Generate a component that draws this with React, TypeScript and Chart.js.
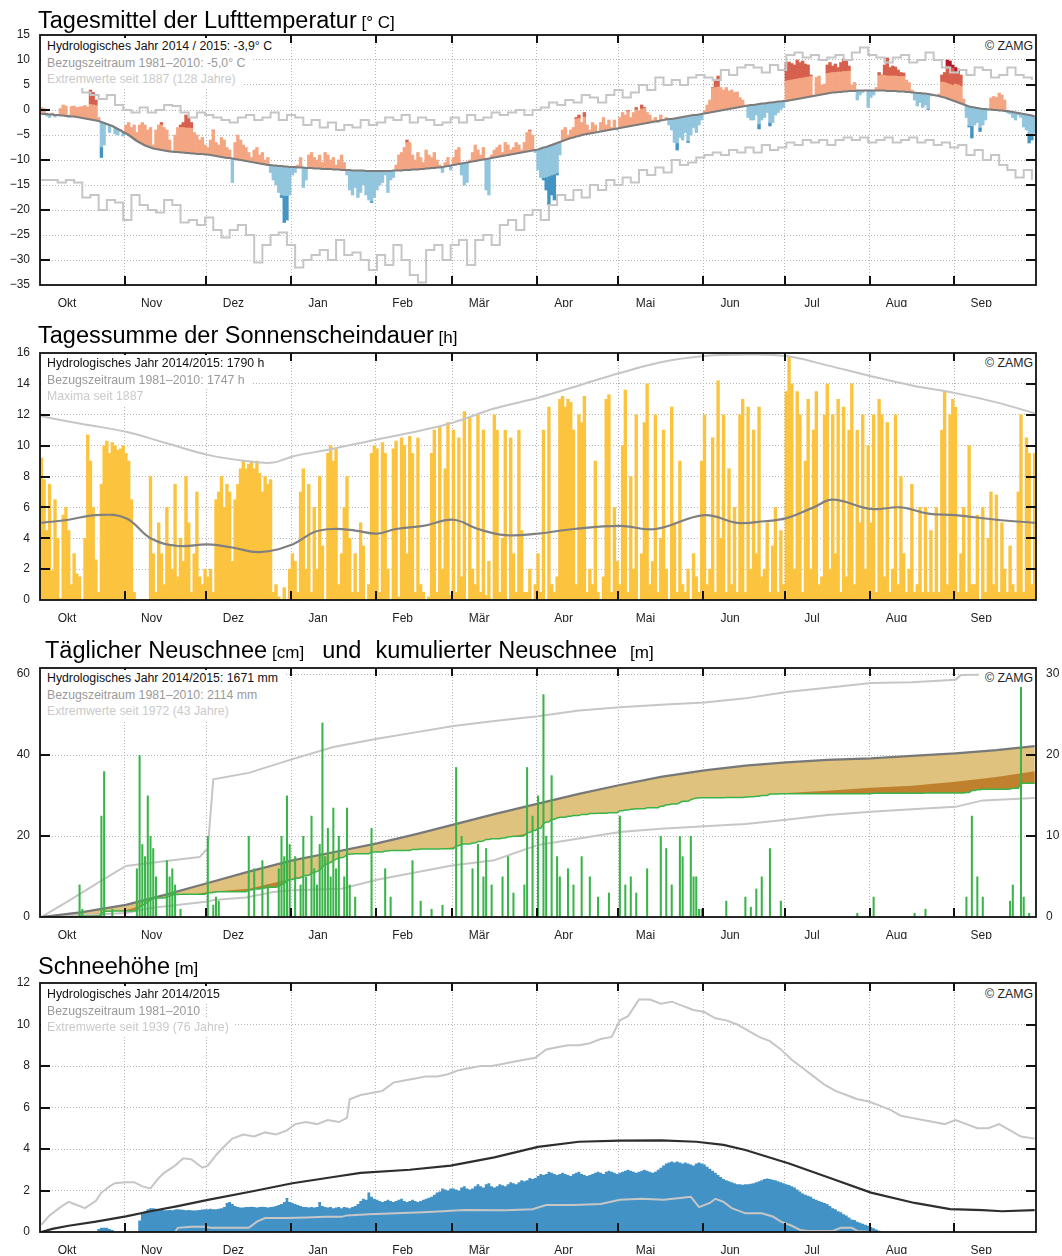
import React, { useEffect, useRef } from "react";
import { Chart, registerables } from "chart.js";

Chart.register(...registerables);

const FONT = '"Liberation Sans", Arial, Helvetica, sans-serif';

// ---------------- shared categories ----------------
const monthLabels = ["Okt", "Nov", "Dez", "Jan", "Feb", "Mär", "Apr", "Mai", "Jun", "Jul", "Aug", "Sep"];
const monthStartDays = [0, 31, 61, 92, 123, 151, 182, 212, 243, 273, 304, 335];
const daysInYear = 365;

// ---------------- panel 1: Tagesmittel der Lufttemperatur ----------------
const tempTicks = [-35, -30, -25, -20, -15, -10, -5, 0, 5, 10, 15];
const tempMean = [
  0.5, 0.3, -1.2, -1.5, -0.6, -1.4, -1.0, 0.3, 1.0, 0.8, -1.5, 0.7, 0.8, 0.5, 0.6, 0.7, 0.9, 0.6, 4.0, 3.5, 2.0, -1.5, -9.5, -7.0, -3.0, -4.5, -3.2, -4.8, -5.0, -3.9, -5.2,
  -3.0, -2.5, -3.5, -3.0, -4.5, -3.0, -2.5, -3.0, -4.0, -3.5, -7.0, -4.0, -3.0, -2.5, -3.5, -4.0, -6.0, -8.5, -5.0, -3.5, -3.0, -2.5, -1.0, -1.5, -2.5, -4.5, -5.0, -6.0, -5.5, -7.0,
  -7.5, -6.0, -4.0, -6.5, -7.0, -5.5, -6.0, -7.5, -8.0, -14.5, -6.5, -5.0, -6.0, -7.0, -7.5, -8.5, -9.5, -8.0, -7.5, -9.0, -8.5, -10.0, -9.5, -12.5, -14.0, -15.0, -16.5, -17.5, -22.5, -22.0, -17.0,
  -13.0, -12.5, -11.0, -9.5, -15.5, -14.0, -9.0, -8.5, -9.5, -10.0, -9.0, -10.5, -8.5, -9.0, -10.0, -9.5, -11.0, -10.0, -9.0, -10.5, -13.0, -16.0, -17.0, -15.5, -17.5, -16.5, -15.0, -17.0, -18.0, -18.5, -17.5,
  -16.0, -15.0, -14.5, -13.0, -16.5, -14.0, -13.5, -11.0, -9.0, -8.5, -7.5, -6.0, -6.5, -9.0, -10.0, -8.5, -9.5, -10.5, -8.0, -9.0, -9.5, -8.5, -10.0, -11.0, -12.5, -10.5, -9.5, -12.0,
  -9.5, -8.0, -7.5, -13.0, -15.0, -14.5, -10.0, -8.5, -7.0, -8.0, -9.0, -7.5, -16.0, -17.0, -9.0, -8.0, -7.5, -7.0, -8.5, -6.5, -7.0, -8.0, -7.5, -6.5, -7.0, -8.0, -6.5, -4.5, -4.0, -5.0, -8.5,
  -12.0, -13.5, -14.0, -16.0, -19.0, -17.0, -18.0, -13.0, -9.0, -4.0, -3.5, -5.0, -4.0, -3.5, -1.5, -1.0, -2.5, -0.5, -3.0, -4.0, -2.5, -3.0, -4.5, -2.5, -1.5, -3.0, -2.0, -3.5, -2.0, -4.0,
  -1.5, -0.5, -1.0, 0.0, -1.5, -0.5, 0.5, 0.0, 1.0, 0.5, -0.5, -1.0, -2.0, -1.5, -2.5, -1.0, -2.0, -1.5, -3.0, -4.0, -6.5, -8.0, -5.5, -6.0, -4.5, -6.5, -5.0, -3.5, -4.5, -3.0, -2.0,
  0.0, 1.0, 2.0, 4.5, 6.0, 6.8, 4.5, 4.0, 4.5, 3.8, 4.0, 3.5, 3.6, 2.5, 2.0, 1.0, -1.5, -2.0, -2.0, -1.0, -3.8, -2.0, -1.5, -0.5, -3.2, -2.5, -1.0, -0.5, 0.0, 0.5,
  9.5, 9.6, 9.3, 9.0, 10.0, 9.5, 9.8, 9.2, 9.0, 7.0, 3.0, 6.5, 6.8, 5.0, 5.2, 9.0, 9.5, 8.8, 9.2, 8.5, 9.5, 10.2, 9.8, 8.8, 5.0, 5.5, 2.0, 3.0, 3.5, 4.0, 0.5,
  2.5, 3.0, 4.5, 7.5, 7.0, 9.0, 10.4, 8.5, 8.8, 8.6, 8.0, 7.5, 7.4, 6.0, 5.5, 4.0, 2.0, 0.8, 1.5, 0.5, 1.0, 0.0, 2.8, 2.9, 2.8, 3.2, 7.0, 7.5, 10.0, 9.8, 9.0,
  8.5, 8.2, 7.0, 2.2, -1.5, -3.4, -5.6, -3.0, -2.5, -4.3, -3.0, -2.0, 0.0, 2.4, 2.7, 2.5, 3.4, 3.0, 2.0, -0.6, -0.8, -1.5, -2.0, -1.0, -1.5, -3.4, -4.0, -6.6, -6.0, -4.6,
];
const tempClim = [
  -0.8, -0.8, -0.8, -0.9, -0.9, -1.0, -1.0, -1.1, -1.1, -1.2, -1.2, -1.3, -1.3, -1.4, -1.5, -1.6, -1.7, -1.8, -1.9, -2.0, -2.1, -2.2, -2.4, -2.6, -2.8, -3.0, -3.2, -3.5, -3.8, -4.1, -4.4,
  -4.7, -5.0, -5.4, -5.8, -6.2, -6.5, -6.8, -7.1, -7.3, -7.5, -7.7, -7.8, -7.9, -8.0, -8.1, -8.2, -8.3, -8.3, -8.4, -8.4, -8.5, -8.5, -8.6, -8.6, -8.7, -8.7, -8.8, -8.8, -8.8, -8.9,
  -8.9, -9.0, -9.1, -9.2, -9.3, -9.4, -9.5, -9.6, -9.6, -9.7, -9.8, -9.9, -10.0, -10.1, -10.2, -10.3, -10.4, -10.5, -10.6, -10.7, -10.8, -10.9, -11.0, -11.0, -11.1, -11.1, -11.2, -11.2, -11.3, -11.3, -11.4,
  -11.4, -11.4, -11.5, -11.5, -11.5, -11.6, -11.6, -11.6, -11.7, -11.7, -11.7, -11.8, -11.8, -11.8, -11.8, -11.9, -11.9, -11.9, -12.0, -12.0, -12.0, -12.0, -12.1, -12.1, -12.1, -12.1, -12.1, -12.2, -12.2, -12.2, -12.2,
  -12.2, -12.2, -12.2, -12.2, -12.2, -12.2, -12.1, -12.1, -12.1, -12.1, -12.0, -12.0, -12.0, -11.9, -11.9, -11.9, -11.8, -11.8, -11.7, -11.7, -11.6, -11.6, -11.5, -11.5, -11.4, -11.3, -11.2, -11.1,
  -11.0, -10.9, -10.8, -10.7, -10.6, -10.5, -10.4, -10.3, -10.2, -10.1, -10.0, -9.9, -9.8, -9.7, -9.6, -9.5, -9.4, -9.3, -9.2, -9.1, -9.0, -8.9, -8.8, -8.7, -8.6, -8.5, -8.4, -8.3, -8.2, -8.1, -8.0,
  -7.9, -7.7, -7.5, -7.4, -7.2, -7.0, -6.8, -6.6, -6.4, -6.2, -6.0, -5.8, -5.6, -5.5, -5.3, -5.2, -5.0, -4.9, -4.8, -4.7, -4.6, -4.5, -4.4, -4.3, -4.2, -4.1, -4.0, -3.9, -3.8, -3.7,
  -3.6, -3.5, -3.4, -3.3, -3.2, -3.1, -3.0, -2.9, -2.8, -2.7, -2.6, -2.5, -2.4, -2.3, -2.2, -2.1, -2.0, -1.9, -1.8, -1.8, -1.7, -1.6, -1.5, -1.4, -1.3, -1.2, -1.1, -1.0, -1.0, -0.9, -0.8,
  -0.7, -0.6, -0.5, -0.4, -0.3, -0.2, -0.1, 0.0, 0.1, 0.2, 0.3, 0.4, 0.5, 0.6, 0.7, 0.8, 0.9, 1.0, 1.0, 1.1, 1.2, 1.3, 1.3, 1.4, 1.5, 1.5, 1.6, 1.7, 1.7, 1.8,
  1.8, 1.9, 2.0, 2.1, 2.2, 2.3, 2.4, 2.5, 2.6, 2.7, 2.8, 2.9, 3.0, 3.1, 3.2, 3.3, 3.4, 3.5, 3.5, 3.6, 3.6, 3.7, 3.7, 3.8, 3.8, 3.8, 3.9, 3.9, 3.9, 3.9, 3.9,
  3.9, 3.9, 3.9, 3.9, 3.9, 3.9, 3.8, 3.8, 3.8, 3.8, 3.7, 3.7, 3.7, 3.6, 3.6, 3.5, 3.5, 3.4, 3.4, 3.3, 3.3, 3.2, 3.1, 3.0, 2.9, 2.8, 2.6, 2.5, 2.3, 2.1, 1.9,
  1.7, 1.5, 1.3, 1.1, 0.9, 0.7, 0.6, 0.5, 0.4, 0.3, 0.2, 0.2, 0.1, 0.1, 0.0, 0.0, -0.1, -0.1, -0.2, -0.2, -0.3, -0.4, -0.5, -0.6, -0.7, -0.8, -0.9, -1.0, -1.1, -1.3,
];
// records (every 3rd day)
const tempRecordStep = 3;
const tempRecordMax = [
  8, 7, 7.5, 6, 5, 3.5, 3, 2.2, 3, 1,
  0, -0.5, 0.5, -0.5, 0, 1, 0.8, -0.5, -1.5, -0.5,
  -1, -1.5, -2, -2.5, -1.5, -1, -2, -1.5, -0.5, -2,
  -1, -1.5, -3, -2, -3.5, -2.5, -4, -3, -3.5, -2,
  -3, -2.5, -1.5, -2, -1, -2.5, -1.5, -2, -3, -2.5,
  -1.5, -2.5, -1, -2, -1.5, -0.5, -1, -0.5, 0, -1,
  0, 0.5, 1.5, 1, 2, 1.5, 3, 2.5, 1.5, 3,
  4, 2.5, 3.5, 5, 4, 6.5, 5, 6, 5, 6.5,
  7, 6.5, 6, 8, 7, 8.5, 9, 8.5, 7.5, 9,
  8, 11, 11.5, 10.5, 11, 10, 10.5, 11, 10, 11.5,
  12.5, 11, 10.5, 9.5, 10.5, 11, 9.5, 10, 11.5, 10,
  8.5, 7.5, 8, 7, 8.5, 8, 6.5, 7, 8.5, 7,
  6.5, 6,
];
const tempRecordMin = [
  -14, -14, -14.5, -14, -14.5, -17.5, -17, -20, -18, -18.5,
  -22, -17, -19, -20, -20.5, -18, -19, -22.5, -22, -23,
  -21.5, -24, -25.5, -24, -23, -25, -30.5, -27, -25, -24.5,
  -27, -31.5, -30, -29, -28, -30, -26, -29, -28.5, -30,
  -32, -29, -31, -27, -30, -33, -34.5, -28, -27, -30,
  -27, -26, -31, -26, -25, -27, -23, -22, -24, -21,
  -20, -22, -19, -17, -18, -16, -17.5, -15, -16, -14,
  -15, -13.5, -14.5, -12, -13, -11.5, -12.5, -10, -11, -10.5,
  -9.5, -9, -8.5, -9, -8, -8.5, -7.5, -8.5, -7, -8,
  -7.5, -6.5, -7, -6, -6.5, -6, -7, -6, -5.5, -6,
  -5.5, -6.5, -6, -5.5, -6.5, -6, -5.5, -6.5, -6, -7,
  -6.5, -7.5, -7, -9, -8, -10, -9, -11, -12, -13.5,
  -12, -14,
];
// anomaly class limits by month (Okt..Sep)
const warmLimit1 = [3, 5, 5, 5, 5.5, 4, 3.5, 3, 4.8, 4, 3, 3.5];
const warmLimit2 = [99, 99, 99, 99, 99, 99, 99, 99, 99, 99, 6.5, 6];
const coldLimit1 = [-5, -5, -5.8, -6, -6, -8, -6, -5, -4, -4, -3, -3.8];

// ---------------- panel 2: Sonnenscheindauer ----------------
const sunTicks = [0, 2, 4, 6, 8, 10, 12, 14, 16];
const sunshine = [
  9.2, 7.8, 4.5, 7.5, 1.9, 6.5, 4.0, 0.1, 5.5, 6.0, 4.5, 1.0, 3.0, 1.7, 1.5, 0.0, 4.0, 10.7, 9.0, 6.0, 2.6, 0.5, 7.5, 10.0, 10.3, 9.5, 10.2, 10.0, 9.7, 9.8, 10.0,
  9.5, 9.0, 6.5, 0.5, 0.0, 0.0, 0.0, 0.0, 0.0, 8.0, 3.0, 0.5, 5.0, 3.0, 1.0, 6.0, 3.5, 2.0, 7.5, 1.5, 4.0, 2.5, 8.0, 5.0, 0.5, 3.0, 7.0, 1.5, 1.0, 2.0,
  1.5, 2.0, 0.5, 6.5, 7.0, 8.0, 6.0, 7.5, 7.0, 2.5, 6.5, 7.5, 8.5, 9.0, 8.5, 8.8, 9.0, 8.5, 9.0, 8.2, 7.0, 8.0, 7.5, 7.8, 0.5, 1.0, 0.2, 0.0, 0.8, 0.0, 2.0,
  3.0, 2.5, 0.5, 7.0, 8.5, 2.0, 7.5, 0.5, 6.0, 2.0, 8.0, 3.5, 0.0, 9.5, 10.0, 9.0, 9.8, 1.0, 3.0, 6.0, 8.0, 4.0, 0.5, 3.0, 0.5, 5.0, 3.5, 0.0, 1.0, 9.5, 10.0,
  9.8, 0.5, 10.2, 9.5, 2.0, 0.0, 9.8, 10.3, 0.2, 10.5, 10.0, 3.0, 10.6, 9.5, 0.5, 10.5, 1.0, 0.5, 0.0, 0.2, 9.5, 11.0, 0.5, 11.2, 2.0, 8.5, 11.5, 0.3,
  11.0, 0.5, 10.5, 1.5, 12.2, 0.0, 11.8, 2.0, 1.0, 12.0, 0.5, 11.0, 0.3, 2.5, 0.0, 12.0, 11.0, 0.5, 4.0, 11.0, 0.0, 10.5, 3.0, 0.5, 11.0, 4.5, 0.5, 0.5, 2.0, 0.0, 1.0,
  3.0, 0.5, 11.0, 0.0, 12.5, 1.0, 0.5, 1.5, 13.0, 13.2, 12.5, 13.0, 12.8, 11.0, 1.0, 12.0, 11.5, 13.2, 0.5, 2.0, 1.0, 9.0, 0.5, 0.0, 1.5, 13.0, 13.3, 0.5, 6.0, 2.5,
  1.0, 10.0, 13.6, 0.5, 8.0, 2.0, 12.0, 0.0, 3.0, 11.5, 14.0, 1.0, 2.5, 12.0, 0.5, 4.0, 11.0, 2.0, 0.0, 12.5, 5.0, 0.5, 9.0, 1.0, 0.5, 2.0, 0.0, 3.0, 1.5, 0.5, 9.0,
  12.0, 1.0, 2.0, 10.5, 0.5, 14.2, 4.0, 12.0, 0.5, 8.5, 1.0, 6.0, 0.5, 12.0, 13.0, 0.5, 12.5, 2.0, 11.0, 3.0, 12.5, 1.5, 2.0, 5.0, 0.5, 3.5, 6.0, 0.5, 4.5, 1.0,
  13.5, 15.8, 14.0, 2.0, 13.5, 12.0, 0.5, 9.0, 13.0, 2.0, 11.0, 13.5, 1.0, 1.5, 12.0, 14.0, 2.0, 12.0, 3.0, 13.0, 0.5, 12.5, 1.5, 11.0, 14.0, 1.0, 11.0, 5.0, 12.0, 2.0, 10.0,
  5.0, 12.0, 0.5, 13.0, 12.0, 1.5, 11.5, 0.5, 2.0, 12.0, 1.0, 8.0, 3.0, 0.5, 2.0, 7.5, 0.5, 1.0, 6.0, 0.5, 6.0, 0.5, 4.5, 0.5, 6.0, 0.5, 11.0, 13.5, 1.0, 12.0, 13.0,
  12.5, 0.5, 3.0, 6.0, 0.5, 10.0, 1.0, 1.0, 5.5, 0.0, 6.0, 0.5, 4.0, 7.0, 1.0, 6.8, 0.5, 5.0, 2.0, 0.5, 3.5, 1.0, 0.5, 7.0, 12.0, 0.5, 10.5, 9.5, 1.0, 9.5,
];
const sunClimDays = [0, 10, 20, 31, 40, 50, 61, 70, 80, 92, 100, 107, 115, 123, 130, 140, 151, 160, 170, 182, 195, 212, 225, 243, 255, 265, 273, 283, 290, 304, 315, 325, 335, 350, 364];
const sunClim = [5.0, 5.2, 5.5, 5.3, 4.0, 3.5, 3.6, 3.4, 3.1, 3.6, 4.4, 4.6, 4.5, 4.3, 4.6, 4.8, 5.2, 4.6, 4.2, 4.3, 4.6, 4.8, 4.6, 5.5, 5.0, 5.1, 5.3, 6.0, 6.5, 5.9, 6.0, 5.6, 5.5, 5.2, 5.0];
const sunMaxDays = [0, 15, 31, 45, 61, 75, 85, 92, 107, 123, 137, 151, 166, 182, 197, 212, 227, 243, 258, 273, 288, 304, 319, 335, 350, 364];
const sunMax = [11.9, 11.4, 10.9, 10.2, 9.4, 9.0, 8.9, 9.3, 9.8, 10.4, 10.9, 11.5, 12.4, 13.1, 13.9, 14.7, 15.4, 15.8, 15.9, 15.8, 15.2, 14.5, 13.9, 13.4, 12.8, 12.1];

// ---------------- panel 3: Neuschnee ----------------
const newSnowTicks = [0, 20, 40, 60];
const cumSnowTicks = [0, 10, 20, 30];
const newSnowDays = [14, 15, 22, 23, 26, 35, 36, 37, 38, 39, 40, 41, 42, 46, 47, 48, 49, 51, 61, 63, 64, 65, 76, 78, 81, 83, 87, 88, 89, 90, 91, 93, 95, 96, 97, 99, 100, 101, 102, 103, 104, 105, 106, 107, 108, 109, 111, 112, 113, 115, 121, 126, 128, 136, 139, 143, 147, 152, 154, 158, 160, 162, 163, 165, 169, 171, 173, 177, 178, 180, 182, 184, 185, 187, 189, 190, 193, 195, 198, 201, 204, 208, 212, 214, 216, 218, 222, 227, 229, 231, 234, 235, 238, 239, 240, 241, 242, 251, 258, 260, 262, 264, 267, 271, 299, 305, 320, 324, 339, 341, 343, 345, 355, 356, 359, 360, 362];
const newSnowCm = [8, 2, 25, 36, 2, 12, 40, 18, 15, 30, 20, 17, 10, 14, 10, 12, 8, 2, 20, 3, 5, 4, 20, 12, 14, 8, 12, 20, 15, 30, 18, 15, 8, 20, 10, 25, 12, 8, 18, 48, 15, 22, 10, 27, 12, 20, 10, 27, 8, 5, 22, 12, 5, 14, 4, 2, 3, 37, 20, 12, 18, 10, 17, 8, 10, 15, 6, 8, 37, 25, 30, 55, 20, 35, 15, 10, 12, 8, 15, 10, 5, 6, 25, 8, 10, 6, 12, 20, 17, 8, 20, 15, 20, 10, 10, 2, 2, 4, 5, 2.5, 7, 10, 17, 4, 1, 5, 1, 2, 5, 25, 10, 5, 4, 8, 57, 5, 1];
const cumSampleDays = [0, 15, 31, 46, 61, 76, 92, 107, 123, 137, 151, 166, 182, 197, 212, 227, 243, 258, 273, 288, 304, 319, 335, 350, 364];
const cumClim = [0, 0.6, 1.5, 2.8, 4.2, 5.6, 7.0, 8.0, 9.1, 10.2, 11.4, 12.7, 14.0, 15.2, 16.3, 17.3, 18.1, 18.7, 19.1, 19.4, 19.6, 19.9, 20.2, 20.6, 21.1];
const cumMedian = [0, 0.25, 0.85, 2.2, 3.1, 3.5, 4.75, 6.0, 7.3, 8.0, 8.6, 9.5, 10.6, 11.6, 12.6, 13.4, 14.2, 14.8, 15.3, 15.6, 15.95, 16.2, 16.7, 17.3, 18.0];
const cumMaxDays = [0, 10, 22, 31, 48, 58, 61, 63, 76, 92, 107, 123, 137, 151, 166, 182, 197, 212, 227, 243, 258, 273, 288, 304, 319, 335, 337, 364];
const cumMax = [0, 2.0, 4.5, 6.3, 7.0, 7.4, 8.5, 17.0, 17.8, 19.5, 21.0, 22.0, 22.8, 23.6, 24.2, 24.8, 25.5, 25.9, 26.2, 26.5, 27.0, 27.8, 28.3, 28.9, 29.0, 29.3, 29.9, 30.0];
const cumMinDays = [0, 31, 40, 61, 63, 75, 85, 92, 110, 123, 137, 151, 166, 182, 197, 212, 227, 243, 258, 273, 288, 304, 319, 335, 345, 364];
const cumMin = [0, 0.5, 1.1, 1.9, 2.1, 2.4, 3.1, 3.3, 3.5, 4.6, 5.5, 6.4, 7.0, 8.9, 9.7, 10.5, 10.9, 11.2, 11.5, 12.0, 12.6, 13.0, 13.3, 13.6, 14.4, 14.7];

// ---------------- panel 4: Schneehöhe ----------------
const depthTicks = [0, 2, 4, 6, 8, 10, 12];
const snowDepth = [
  0, 0, 0, 0, 0, 0, 0, 0, 0, 0, 0, 0, 0, 0, 0, 0, 0, 0, 0, 0, 0, 0.15, 0.2, 0.2, 0.2, 0.15, 0.1, 0, 0, 0, 0,
  0, 0, 0, 0, 0, 0.55, 0.9, 1.0, 1.1, 1.15, 1.15, 1.12, 1.1, 1.08, 1.05, 1.05, 1.06, 1.05, 1.08, 1.1, 1.08, 1.07, 1.05, 1.06, 1.05, 1.04, 1.05, 1.06, 1.08, 1.1,
  1.1, 1.12, 1.1, 1.1, 1.12, 1.15, 1.2, 1.4, 1.45, 1.35, 1.25, 1.2, 1.18, 1.18, 1.2, 1.2, 1.22, 1.2, 1.18, 1.2, 1.22, 1.2, 1.18, 1.2, 1.22, 1.25, 1.3, 1.35, 1.45, 1.64, 1.45,
  1.4, 1.35, 1.3, 1.25, 1.2, 1.2, 1.18, 1.2, 1.18, 1.2, 1.45, 1.25, 1.2, 1.18, 1.2, 1.15, 1.18, 1.2, 1.15, 1.2, 1.18, 1.15, 1.2, 1.25, 1.35, 1.5, 1.6, 1.55, 1.9, 1.7, 1.6,
  1.55, 1.5, 1.45, 1.5, 1.55, 1.5, 1.45, 1.5, 1.55, 1.6, 1.5, 1.45, 1.5, 1.55, 1.5, 1.45, 1.5, 1.55, 1.6, 1.65, 1.7, 1.8, 1.9, 1.95, 2.1, 2.05, 2.0, 2.1,
  2.1, 2.05, 2.0, 2.15, 2.2, 2.1, 2.05, 2.1, 2.2, 2.3, 2.2, 2.15, 2.3, 2.35, 2.2, 2.15, 2.2, 2.3, 2.25, 2.2, 2.3, 2.4, 2.35, 2.3, 2.4, 2.5, 2.45, 2.5, 2.6, 2.55, 2.6,
  2.7, 2.8, 2.75, 2.8, 2.9, 2.85, 2.8, 2.75, 2.8, 2.85, 2.8, 2.75, 2.7, 2.8, 2.85, 2.9, 2.8, 2.75, 2.7, 2.75, 2.8, 2.85, 2.9, 2.85, 2.8, 2.9, 2.95, 2.9, 2.85, 2.8,
  2.85, 2.9, 2.95, 3.0, 2.95, 2.9, 2.85, 2.9, 2.95, 3.0, 2.95, 2.9, 2.85, 2.9, 3.0, 3.1, 3.2, 3.3, 3.35, 3.4, 3.35, 3.4, 3.35, 3.3, 3.35, 3.3, 3.25, 3.2, 3.3, 3.35, 3.3,
  3.25, 3.15, 3.05, 2.95, 2.85, 2.75, 2.65, 2.55, 2.5, 2.45, 2.4, 2.35, 2.3, 2.3, 2.28, 2.3, 2.3, 2.32, 2.35, 2.4, 2.45, 2.5, 2.55, 2.58, 2.55, 2.52, 2.5, 2.45, 2.4, 2.35,
  2.3, 2.26, 2.2, 2.15, 2.05, 1.95, 1.85, 1.8, 1.75, 1.7, 1.6, 1.55, 1.5, 1.45, 1.4, 1.35, 1.25, 1.15, 1.1, 1.0, 0.95, 0.85, 0.8, 0.7, 0.6, 0.58, 0.5, 0.45, 0.4, 0.35, 0.3,
  0.24, 0.18, 0.12, 0.06, 0.02, 0, 0, 0, 0, 0, 0, 0, 0, 0, 0, 0, 0, 0, 0, 0, 0, 0, 0, 0, 0, 0, 0, 0, 0, 0, 0,
  0, 0, 0, 0, 0, 0, 0, 0, 0, 0, 0, 0, 0, 0, 0, 0, 0, 0, 0, 0, 0, 0, 0, 0, 0, 0, 0, 0, 0, 0,
];
const depthClimDays = [0, 4, 10, 20, 31, 40, 50, 61, 77, 92, 107, 117, 135, 150, 166, 182, 197, 212, 227, 240, 250, 258, 274, 289, 304, 320, 333, 345, 352, 364];
const depthClim = [0, 0.15, 0.3, 0.5, 0.75, 1.0, 1.25, 1.55, 1.95, 2.35, 2.65, 2.85, 3.0, 3.2, 3.6, 4.1, 4.35, 4.4, 4.42, 4.35, 4.2, 3.95, 3.3, 2.6, 1.9, 1.4, 1.1, 1.05, 1.0, 1.05];
const depthMaxDays = [0, 3, 7, 10, 13, 16, 20, 22, 25, 27, 31, 34, 37, 40, 43, 45, 49, 52, 55, 57, 59, 61, 64, 66, 70, 74, 78, 82, 86, 90, 93, 97, 101, 105, 109, 112, 113, 117, 121, 125, 129, 133, 137, 141, 145, 149, 153, 157, 161, 165, 169, 173, 177, 181, 185, 189, 193, 197, 201, 205, 209, 212, 215, 219, 223, 227, 231, 235, 239, 243, 247, 251, 255, 259, 263, 267, 271, 275, 279, 283, 287, 291, 295, 299, 303, 307, 311, 315, 319, 323, 327, 331, 335, 339, 343, 347, 351, 355, 359, 364];
const depthMax = [0.35, 0.8, 1.2, 1.45, 1.3, 1.15, 1.5, 1.9, 2.2, 2.35, 2.4, 2.4, 2.2, 2.1, 2.6, 2.85, 3.2, 3.55, 3.5, 3.3, 3.1, 3.2, 3.7, 4.0, 4.5, 4.7, 4.6, 4.8, 4.7, 4.9, 5.2, 5.3, 5.2, 5.4, 5.3, 5.5, 6.4, 6.6, 6.7, 6.8, 7.2, 7.3, 7.4, 7.5, 7.5, 7.6, 7.8, 7.9, 8.0, 8.0, 8.1, 8.2, 8.3, 8.4, 8.8, 8.9, 9.0, 9.0, 9.1, 9.3, 9.4, 10.2, 10.4, 11.2, 11.2, 11.0, 11.1, 10.9, 10.7, 10.6, 10.3, 10.2, 10.0, 9.7, 9.4, 9.2, 8.8, 8.3, 7.9, 7.5, 7.1, 6.8, 6.6, 6.4, 6.3, 6.1, 5.9, 5.6, 5.5, 5.4, 5.3, 5.2, 5.4, 5.2, 5.0, 5.0, 5.2, 4.9, 4.6, 4.5];
const depthMinDays = [49, 50, 55, 60, 62, 70, 76, 79, 82, 90, 97, 104, 110, 112, 120, 130, 140, 147, 155, 170, 180, 185, 195, 205, 212, 220, 228, 235, 238, 241, 245, 247, 250, 253, 258, 264, 268, 271, 275, 278, 281, 290, 293, 297, 299, 305];
const depthMin = [0, 0.2, 0.25, 0.25, 0.2, 0.2, 0.2, 0.5, 0.67, 0.67, 0.7, 0.73, 0.73, 0.8, 0.85, 0.9, 0.95, 1.0, 1.06, 1.05, 1.1, 1.3, 1.3, 1.35, 1.55, 1.6, 1.55, 1.65, 1.7, 1.2, 1.4, 1.6, 1.45, 1.15, 0.9, 0.9, 0.75, 0.5, 0.3, 0.1, 0.05, 0.05, 0.2, 0.2, 0.05, 0];

// ---------------- styling ----------------
const GRID = "#b5b5b5";
const C = {
  salmon: "#f4a582", red: "#d6604d", crimson: "#b2182b", lightBlue: "#92c5de", blue: "#4393c3",
  tempClim: "#7c7c7c", record: "#c6c6c6", sun: "#fcc43e", sunClim: "#808080",
  snow: "#3ab44a", tan: "#dfc27d", brown: "#bf812d", cumClim: "#787878",
  depth: "#4292c6", depthClim: "#2e2e2e",
};

const fmt = (v: number) => (v < 0 ? "\u2212" + Math.abs(v) : String(v));
const daily = (vals: number[]) => vals.map((v, d) => ({ x: d + 0.5, y: v }));
const sampled = (days: number[], vals: number[]) => days.map((d, i) => ({ x: d + 0.5, y: vals[i] }));
const stepSampled = (step: number, vals: number[]) => vals.map((v, i) => ({ x: i * step + 0.5, y: v }));

function monthOf(d: number) {
  let m = 0;
  for (let i = 0; i < monthStartDays.length; i++) if (d >= monthStartDays[i]) m = i;
  return m;
}

function xScale() {
  return {
    type: "linear", min: 0, max: daysInYear, offset: false,
    afterBuildTicks: (s: any) => { s.ticks = monthStartDays.map((v) => ({ value: v })); },
    afterFit: (s: any) => { s.height = 22; },
    ticks: {
      autoSkip: false, maxRotation: 0, minRotation: 0, labelOffset: 27, padding: 11,
      color: "#222", font: { family: FONT, size: 12 },
      callback: (_v: any, i: number) => monthLabels[i],
    },
    grid: { color: GRID, lineWidth: 1, drawTicks: false, offset: false },
    border: { display: false, dash: [1, 2] },
  };
}

function yScale(min: number, max: number, ticks: number[], position = "left", grid = true) {
  return {
    type: "linear", position, min, max,
    afterBuildTicks: (s: any) => { s.ticks = ticks.map((v) => ({ value: v })); },
    afterFit: (s: any) => { s.width = position === "left" ? 40 : 26; },
    ticks: { padding: 10, color: "#222", font: { family: FONT, size: 12 }, callback: (v: any) => fmt(Number(v)) },
    grid: { display: grid, color: GRID, lineWidth: 1, drawTicks: false },
    border: { display: false, dash: [1, 2] },
  };
}

function framePlugin(cfg: { left: number[]; right: number[]; rightScale?: string }) {
  return {
    id: "frame",
    afterDatasetsDraw(chart: any) {
      const { ctx, chartArea } = chart;
      const { left, right, top, bottom } = chartArea;
      const xs = chart.scales.x;
      const yl = chart.scales.y;
      const yr = chart.scales[cfg.rightScale || "y"];
      ctx.save();
      ctx.strokeStyle = "#111";
      ctx.lineWidth = 2;
      ctx.beginPath();
      monthStartDays.slice(1).forEach((d) => {
        const px = Math.round(xs.getPixelForValue(d));
        ctx.moveTo(px, bottom); ctx.lineTo(px, bottom - 9);
        ctx.moveTo(px, top); ctx.lineTo(px, top + 8);
      });
      cfg.left.forEach((v) => { const py = Math.round(yl.getPixelForValue(v)); ctx.moveTo(left, py); ctx.lineTo(left + 10, py); });
      cfg.right.forEach((v) => { const py = Math.round(yr.getPixelForValue(v)); ctx.moveTo(right, py); ctx.lineTo(right - 10, py); });
      ctx.stroke();
      ctx.lineWidth = 1.8;
      ctx.strokeRect(left, top, right - left, bottom - top);
      ctx.restore();
    },
  };
}

// fills the band between an upper and a lower series (only where upper lies above lower)
function bandPlugin(bands: { upper: any[]; lower: any[]; color: string }[], yId: string) {
  return {
    id: "bands",
    beforeDatasetsDraw(chart: any) {
      const { ctx, chartArea } = chart;
      const xs = chart.scales.x;
      const ys = chart.scales[yId];
      const X = (p: any) => xs.getPixelForValue(p.x);
      const Y = (p: any) => ys.getPixelForValue(p.y);
      ctx.save();
      ctx.beginPath();
      ctx.rect(chartArea.left, chartArea.top, chartArea.right - chartArea.left, chartArea.bottom - chartArea.top);
      ctx.clip();
      bands.forEach((b) => {
        ctx.save();
        ctx.beginPath();
        b.lower.forEach((p, i) => (i ? ctx.lineTo(X(p), Y(p)) : ctx.moveTo(X(p), Y(p))));
        ctx.lineTo(chartArea.right + 5, Y(b.lower[b.lower.length - 1]));
        ctx.lineTo(chartArea.right + 5, chartArea.top - 5);
        ctx.lineTo(chartArea.left - 5, chartArea.top - 5);
        ctx.lineTo(chartArea.left - 5, Y(b.lower[0]));
        ctx.closePath();
        ctx.clip();
        ctx.beginPath();
        b.upper.forEach((p, i) => (i ? ctx.lineTo(X(p), Y(p)) : ctx.moveTo(X(p), Y(p))));
        for (let i = b.lower.length - 1; i >= 0; i--) ctx.lineTo(X(b.lower[i]), Y(b.lower[i]));
        ctx.closePath();
        ctx.fillStyle = b.color;
        ctx.fill();
        ctx.restore();
      });
      ctx.restore();
    },
  };
}

function baseOptions(scales: any, padding: any) {
  return {
    responsive: false, maintainAspectRatio: false, animation: false, devicePixelRatio: 1, events: [],
    layout: { padding },
    plugins: { legend: { display: false }, tooltip: { enabled: false } },
    scales,
  };
}

const line = (data: any[], color: string, width: number, order: number, extra: any = {}) => ({
  type: "line", data, borderColor: color, borderWidth: width, pointRadius: 0, fill: false, order, ...extra,
});
const bars = (data: any[], color: string, order: number, pct = 1, extra: any = {}) => ({
  type: "bar", data, backgroundColor: color, borderWidth: 0, grouped: false,
  barPercentage: pct, categoryPercentage: 1, order, ...extra,
});

function tempConfig() {
  const salmon: any[] = [], red: any[] = [], crimson: any[] = [], lightBlue: any[] = [], blue: any[] = [];
  tempMean.forEach((t, d) => {
    const c = tempClim[d];
    const m = monthOf(d);
    const x = d + 0.5;
    const a = t - c;
    if (a >= 0) {
      salmon.push({ x, y: [c, c + Math.min(a, warmLimit1[m])] });
      if (a > warmLimit1[m]) red.push({ x, y: [c + warmLimit1[m], c + Math.min(a, warmLimit2[m])] });
      if (a > warmLimit2[m]) crimson.push({ x, y: [c + warmLimit2[m], t] });
    } else {
      lightBlue.push({ x, y: [c + Math.max(a, coldLimit1[m]), c] });
      if (a < coldLimit1[m]) blue.push({ x, y: [t, c + coldLimit1[m]] });
    }
  });
  return {
    type: "bar",
    data: {
      datasets: [
        line(daily(tempClim), C.tempClim, 2.2, 0),
        line(stepSampled(tempRecordStep, tempRecordMax), C.record, 2, 1, { stepped: true }),
        line(stepSampled(tempRecordStep, tempRecordMin), C.record, 2, 1, { stepped: true }),
        bars(salmon, C.salmon, 3), bars(red, C.red, 3), bars(crimson, C.crimson, 3),
        bars(lightBlue, C.lightBlue, 3), bars(blue, C.blue, 3),
      ],
    },
    options: baseOptions({ x: xScale(), y: yScale(-35, 15, tempTicks) }, { left: 0, right: 26, top: 35, bottom: 13 }),
    plugins: [framePlugin({ left: [-30, -20, -10, 0, 10], right: [-30, -25, -20, -15, -10, -5, 0, 5, 10] })],
  };
}

function sunConfig() {
  return {
    type: "bar",
    data: {
      datasets: [
        line(sampled(sunClimDays, sunClim), C.sunClim, 2.2, 0, { tension: 0.4 }),
        line(sampled(sunMaxDays, sunMax), C.record, 2, 1, { tension: 0.4 }),
        bars(daily(sunshine), C.sun, 3),
      ],
    },
    options: baseOptions({ x: xScale(), y: yScale(0, 16, sunTicks) }, { left: 0, right: 26, top: 33, bottom: 10 }),
    plugins: [framePlugin({ left: [2, 4, 6, 8, 10, 12, 14], right: [2, 4, 6, 8, 10, 12, 14] })],
  };
}

function snowConfig() {
  const cum: any[] = [];
  let total = 0;
  const byDay: Record<number, number> = {};
  newSnowDays.forEach((d, i) => { byDay[d] = newSnowCm[i]; });
  for (let d = 0; d < daysInYear; d++) {
    total += byDay[d] || 0;
    cum.push({ x: d + 0.5, y: total / 100 });
  }
  const snowBars = newSnowDays.map((d, i) => ({ x: d + 0.5, y: newSnowCm[i] }));
  const climPts = sampled(cumSampleDays, cumClim);
  const medianPts = sampled(cumSampleDays, cumMedian);
  return {
    type: "bar",
    data: {
      datasets: [
        bars(snowBars, C.snow, 0, 0.75),
        line(cum, C.snow, 1.5, 1, { yAxisID: "y2" }),
        line(climPts, C.cumClim, 2.2, 2, { yAxisID: "y2" }),
        line(sampled(cumMaxDays, cumMax), C.record, 2, 3, { yAxisID: "y2" }),
        line(sampled(cumMinDays, cumMin), C.record, 2, 3, { yAxisID: "y2" }),
      ],
    },
    options: baseOptions(
      { x: xScale(), y: yScale(0, 61.5, newSnowTicks), y2: yScale(0, 30.75, cumSnowTicks, "right", false) },
      { left: 0, right: 0, top: 36, bottom: 11 }
    ),
    plugins: [
      bandPlugin([{ upper: climPts, lower: cum, color: C.tan }, { upper: medianPts, lower: cum, color: C.brown }], "y2"),
      framePlugin({ left: [20, 40], right: [10, 20], rightScale: "y2" }),
    ],
  };
}

function depthConfig() {
  return {
    type: "bar",
    data: {
      datasets: [
        line(sampled(depthClimDays, depthClim), C.depthClim, 2.2, 0),
        line(sampled(depthMaxDays, depthMax), C.record, 2, 1),
        line(sampled(depthMinDays, depthMin), C.record, 2, 1),
        line(daily(snowDepth), "rgba(0,0,0,0)", 0, 3, { fill: "origin", backgroundColor: C.depth, stepped: "middle" }),
      ],
    },
    options: baseOptions({ x: xScale(), y: yScale(0, 12, depthTicks) }, { left: 0, right: 26, top: 33, bottom: 2 }),
    plugins: [framePlugin({ left: [2, 4, 6, 8, 10], right: [2, 4, 6, 8, 10] })],
  };
}

// ---------------- text overlays ----------------
type Part = { text: string; size: number; gap?: number };
function Title({ top, left, parts }: { top: number; left: number; parts: Part[] }) {
  return (
    <div style={{ position: "absolute", top, left, display: "flex", alignItems: "baseline", whiteSpace: "pre", color: "#000" }}>
      {parts.map((p, i) => (
        <span key={i} style={{ fontSize: p.size, lineHeight: 1, marginLeft: p.gap || 0 }}>{p.text}</span>
      ))}
    </div>
  );
}

const LEGEND_COLORS = ["#111", "#9a9a9a", "#cacaca"];
function Legend({ top, lines }: { top: number; lines: string[] }) {
  return (
    <>
      {lines.map((t, i) => (
        <div key={i} style={{ position: "absolute", left: 41, top: top + i * 16.5, fontSize: 12.3, lineHeight: "14px", color: LEGEND_COLORS[i], background: "#fff", padding: "1px 6px 2px 6px", whiteSpace: "pre" }}>
          {t}
        </div>
      ))}
      <div style={{ position: "absolute", right: 27, top, fontSize: 12.3, lineHeight: "14px", color: "#222", background: "#fff", padding: "1px 2px 2px 6px" }}>
        © ZAMG
      </div>
    </>
  );
}

export default function App() {
  const r1 = useRef<HTMLCanvasElement>(null);
  const r2 = useRef<HTMLCanvasElement>(null);
  const r3 = useRef<HTMLCanvasElement>(null);
  const r4 = useRef<HTMLCanvasElement>(null);

  useEffect(() => {
    const charts = [
      new Chart(r1.current as any, tempConfig() as any),
      new Chart(r2.current as any, sunConfig() as any),
      new Chart(r3.current as any, snowConfig() as any),
      new Chart(r4.current as any, depthConfig() as any),
    ];
    return () => charts.forEach((c) => c.destroy());
  }, []);

  const cv = (top: number, h: number) => ({ position: "absolute" as const, left: 0, top, width: 1062, height: h });

  return (
    <div style={{ position: "absolute", left: 0, top: 0, width: 1062, height: 1256, background: "#fff", overflow: "hidden", fontFamily: FONT }}>
      <canvas ref={r1} width={1062} height={320} style={cv(0, 320)} />
      <canvas ref={r2} width={1062} height={312} style={cv(320, 312)} />
      <canvas ref={r3} width={1062} height={318} style={cv(632, 318)} />
      <canvas ref={r4} width={1062} height={306} style={cv(950, 306)} />

      <Title top={8.5} left={38} parts={[{ text: "Tagesmittel der Lufttemperatur", size: 23.5 }, { text: " [° C]", size: 17 }]} />
      <Legend top={38} lines={["Hydrologisches Jahr 2014 / 2015: -3,9° C", "Bezugszeitraum 1981–2010: -5,0° C", "Extremwerte seit 1887 (128 Jahre)"]} />

      <Title top={324} left={38} parts={[{ text: "Tagessumme der Sonnenscheindauer", size: 23.5 }, { text: " [h]", size: 17 }]} />
      <Legend top={355} lines={["Hydrologisches Jahr 2014/2015: 1790 h", "Bezugszeitraum 1981–2010: 1747 h", "Maxima seit 1887"]} />

      <Title top={639} left={45} parts={[{ text: "Täglicher Neuschnee", size: 23.5 }, { text: "[cm]", size: 17, gap: 5 }, { text: "und", size: 23.5, gap: 18 }, { text: "kumulierter Neuschnee", size: 23.5, gap: 14 }, { text: "[m]", size: 17, gap: 13 }]} />
      <Legend top={670} lines={["Hydrologisches Jahr 2014/2015: 1671 mm", "Bezugszeitraum 1981–2010: 2114 mm", "Extremwerte seit 1972 (43 Jahre)"]} />

      <Title top={955} left={38} parts={[{ text: "Schneehöhe", size: 23.5 }, { text: " [m]", size: 17 }]} />
      <Legend top={986} lines={["Hydrologisches Jahr 2014/2015", "Bezugszeitraum 1981–2010", "Extremwerte seit 1939 (76 Jahre)"]} />
    </div>
  );
}
